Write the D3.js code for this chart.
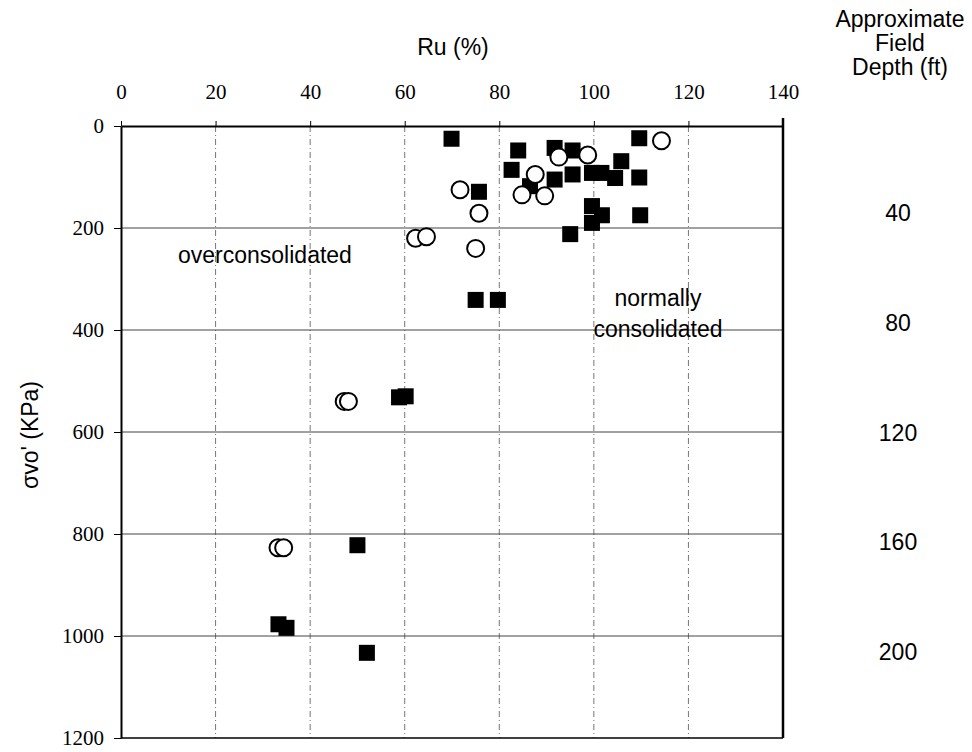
<!DOCTYPE html>
<html lang="en">
<meta charset="utf-8">
<head>
  <style>
    body { margin: 0; background: #fff; }
    .lbl { font: 23px "Liberation Sans", Arial, sans-serif; fill: #000; }
    .axis text { font-family: "Liberation Serif", "Times New Roman", serif; font-size: 21px; fill: #000; }
  </style>
  <title></title>
</head>
<body>
<script src="https://d3js.org/d3.v7.min.js"></script>
<script>

  // Ru (%) vs effective vertical stress (kPa)
  const squaresRu     = [69.9, 84, 82.6, 91.7, 95.5, 91.7, 86.5, 95.5, 99.6, 101.6, 104.5, 105.8, 109.6, 109.6,
                         99.6, 101.7, 99.6, 109.8, 95, 75.7, 75, 79.7, 58.8, 60.2, 50, 33.3, 35, 52];
  const squaresStress = [25, 48, 86, 43, 48, 105, 118, 95, 92, 92, 102, 69, 24, 101,
                         157, 175, 190, 175, 212, 129, 341, 341, 532, 530, 822, 977, 984, 1033];

  const circlesRu     = [114.3, 92.6, 98.7, 87.6, 84.8, 89.6, 71.7, 75.7, 62.3, 64.6, 75, 47.2, 48.1, 33.2, 34.4];
  const circlesStress = [29, 61, 57, 95, 135, 137, 125, 171, 220, 217, 240, 540, 540, 827, 827];

  const xTicks = [0, 20, 40, 60, 80, 100, 120, 140];
  const yTicks = [0, 200, 400, 600, 800, 1000, 1200];

  // right hand depth scale: depth (ft) and the stress level it sits at
  const depthLabels = ["40", "80", "120", "160", "200"];
  const depthStress = [171, 386, 601, 816, 1031];

  const width = 972, height = 752;
  const plotL = 121, plotR = 783, plotT = 126, plotB = 738;

  const x = d3.scaleLinear().domain([0, 140]).range([plotL, plotR]);
  const y = d3.scaleLinear().domain([0, 1200]).range([plotT, plotB]);

  const svg = d3.select("body").append("svg")
          .attr("width", width)
          .attr("height", height);

  // vertical dashed grid
  svg.append("g")
      .selectAll("line")
      .data(xTicks.slice(1, -1))
      .enter().append("line")
      .attr("x1", d => x(d)).attr("x2", d => x(d))
      .attr("y1", plotT).attr("y2", plotB)
      .attr("stroke", "#777")
      .attr("stroke-width", 1)
      .attr("stroke-dasharray", "6,3,1,3");

  // horizontal grid
  svg.append("g")
      .selectAll("line")
      .data(yTicks.slice(1, -1))
      .enter().append("line")
      .attr("x1", plotL).attr("x2", plotR)
      .attr("y1", d => y(d)).attr("y2", d => y(d))
      .attr("stroke", "#444")
      .attr("stroke-width", 1.2);

  // top axis
  svg.append("g")
      .attr("class", "axis")
      .attr("transform", "translate(0," + plotT + ")")
      .call(d3.axisTop(x).tickValues(xTicks).tickFormat(d3.format("d"))
          .tickSize(5).tickPadding(22).tickSizeOuter(0))
      .call(g => g.select(".domain").attr("stroke-width", 2));

  // left axis
  svg.append("g")
      .attr("class", "axis")
      .attr("transform", "translate(" + plotL + ",0)")
      .call(d3.axisLeft(y).tickValues(yTicks).tickFormat(d3.format("d"))
          .tickSize(7).tickPadding(10).tickSizeOuter(0))
      .call(g => g.select(".domain").attr("stroke-width", 2));

  // right and bottom frame
  svg.append("line")
      .attr("x1", plotR).attr("x2", plotR)
      .attr("y1", plotT - 8).attr("y2", plotB)
      .attr("stroke", "#000").attr("stroke-width", 2.5);
  svg.append("line")
      .attr("x1", plotL).attr("x2", plotR)
      .attr("y1", plotB).attr("y2", plotB)
      .attr("stroke", "#000").attr("stroke-width", 1.5);

  // filled squares
  const sq = 16;
  svg.append("g")
      .selectAll("rect")
      .data(d3.zip(squaresRu, squaresStress))
      .enter().append("rect")
      .attr("x", d => x(d[0]) - sq / 2)
      .attr("y", d => y(d[1]) - sq / 2)
      .attr("width", sq)
      .attr("height", sq)
      .attr("fill", "#000");

  // open circles
  svg.append("g")
      .selectAll("circle")
      .data(d3.zip(circlesRu, circlesStress))
      .enter().append("circle")
      .attr("cx", d => x(d[0]))
      .attr("cy", d => y(d[1]))
      .attr("r", 8.5)
      .attr("fill", "#fff")
      .attr("stroke", "#000")
      .attr("stroke-width", 2);

  // titles and annotations
  svg.append("text").attr("class", "lbl")
      .attr("x", 453).attr("y", 55)
      .attr("text-anchor", "middle")
      .text("Ru (%)");

  svg.append("text").attr("class", "lbl")
      .attr("transform", "translate(38,435) rotate(-90)")
      .attr("text-anchor", "middle")
      .text("σvo' (KPa)");

  svg.append("text").attr("class", "lbl")
      .attr("x", 178).attr("y", 263)
      .text("overconsolidated");

  svg.append("text").attr("class", "lbl")
      .attr("x", 658).attr("y", 306)
      .attr("text-anchor", "middle")
      .text("normally");
  svg.append("text").attr("class", "lbl")
      .attr("x", 658).attr("y", 337)
      .attr("text-anchor", "middle")
      .text("consolidated");

  const hdr = ["Approximate", "Field", "Depth (ft)"];
  svg.append("g")
      .selectAll("text")
      .data(hdr)
      .enter().append("text")
      .attr("class", "lbl")
      .attr("x", 900)
      .attr("y", (d, i) => 27 + i * 24)
      .attr("text-anchor", "middle")
      .text(d => d);

  svg.append("g")
      .selectAll("text")
      .data(d3.zip(depthLabels, depthStress))
      .enter().append("text")
      .attr("class", "lbl")
      .attr("x", 898)
      .attr("y", d => y(d[1]) + 8)
      .attr("text-anchor", "middle")
      .text(d => d[0]);

</script>
</body>
</html>
